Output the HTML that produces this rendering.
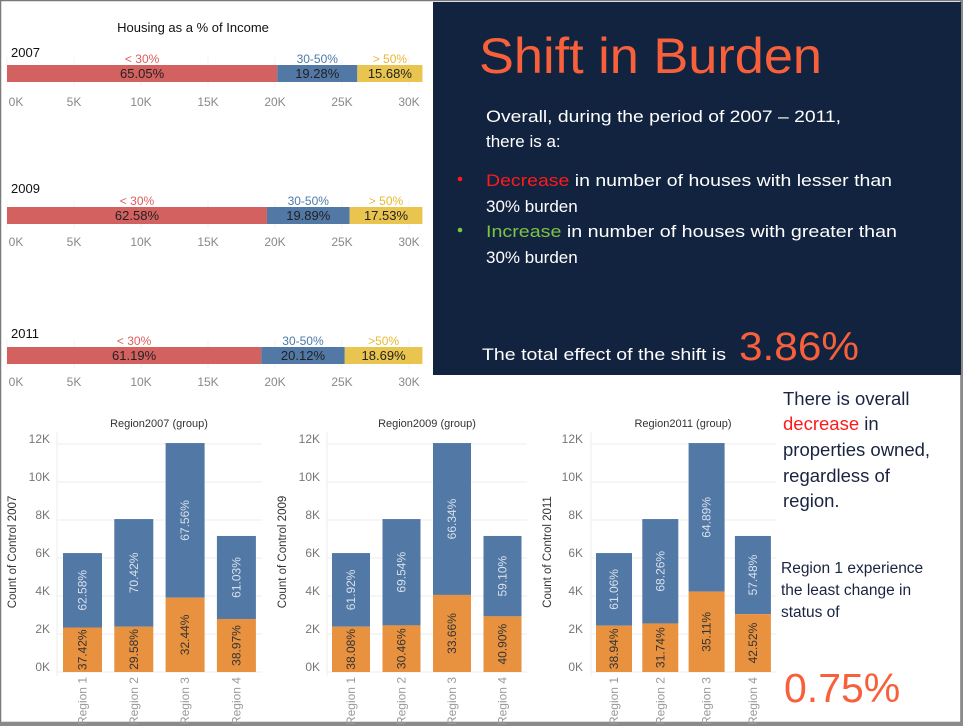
<!DOCTYPE html>
<html><head><meta charset="utf-8">
<style>
html,body{margin:0;padding:0;background:#fff;}
svg{display:block;font-family:"Liberation Sans",sans-serif;}
</style></head>
<body>
<svg id="s" width="963" height="726" viewBox="0 0 963 726" xmlns="http://www.w3.org/2000/svg">
<rect x="0" y="0" width="963" height="726" fill="#fff"/>
<rect x="0.5" y="0.5" width="960.5" height="722" fill="none" stroke="#7a7a7a" stroke-width="1.5"/>
<rect x="0" y="722" width="963" height="4" fill="#8a8a8a"/>
<rect x="961" y="0" width="2" height="726" fill="#8a8a8a"/>
<rect x="433" y="2" width="528" height="373" fill="#12233f"/>
<text x="479" y="73" font-size="50" fill="#f8603b" textLength="343" lengthAdjust="spacingAndGlyphs">Shift in Burden</text>
<g fill="#ffffff" font-size="17">
<text x="486" y="122" textLength="355" lengthAdjust="spacingAndGlyphs">Overall, during the period of 2007 – 2011,</text>
<text x="486" y="147">there is a:</text>
<text x="486" y="186" textLength="406" lengthAdjust="spacingAndGlyphs"><tspan fill="#ff1a1a">Decrease</tspan> in number of houses with lesser than</text>
<text x="486" y="212">30% burden</text>
<text x="486" y="237" textLength="411" lengthAdjust="spacingAndGlyphs"><tspan fill="#7cc443">Increase</tspan> in number of houses with greater than</text>
<text x="486" y="263">30% burden</text>
<text x="482" y="360" textLength="244" lengthAdjust="spacingAndGlyphs">The total effect of the shift is</text>
</g>
<circle cx="460" cy="179" r="2.3" fill="#ff1a1a"/>
<circle cx="460" cy="230" r="2.3" fill="#7cc443"/>
<text x="739" y="360" font-size="40" fill="#f8603b" textLength="120" lengthAdjust="spacingAndGlyphs">3.86%</text>
<g fill="#1a2440" font-size="18.5">
<text x="783" y="405">There is overall</text>
<text x="783" y="430"><tspan fill="#ff1a1a">decrease</tspan> in</text>
<text x="783" y="456">properties owned,</text>
<text x="783" y="482">regardless of</text>
<text x="783" y="507">region.</text>
</g>
<g fill="#1a2440" font-size="15.5">
<text x="781" y="573">Region 1 experience</text>
<text x="781" y="595">the least change in</text>
<text x="781" y="617">status of</text>
</g>
<text x="784" y="702" font-size="41" fill="#f8603b">0.75%</text>
<text x="193" y="32" font-size="13" fill="#111" text-anchor="middle">Housing as a % of Income</text>
<g id="hbars"></g>
<g id="vbars"></g>
</svg>
<script>
// Housing as % of income (stacked horizontal bars)
const years = ["2007", "2009", "2011"];
const burdenCats = ["< 30%", "30-50%", "> 50%"];
const burdenCats2011 = ["< 30%", "30-50%", ">50%"];
const pctLow = [65.05, 62.58, 61.19];
const pctMid = [19.28, 19.89, 20.12];
const pctHigh = [15.68, 17.53, 18.69];
const yearTotals = [31000, 31000, 31000];
const xTicks = [0, 5000, 10000, 15000, 20000, 25000, 30000];
const xTickLabels = ["0K", "5K", "10K", "15K", "20K", "25K", "30K"];

// Region charts
const regions = ["Region 1", "Region 2", "Region 3", "Region 4"];
const regionTotals = [6260, 8050, 12050, 7160];
const ownPct2007 = [37.42, 29.58, 32.44, 38.97];
const restPct2007 = [62.58, 70.42, 67.56, 61.03];
const ownPct2009 = [38.08, 30.46, 33.66, 40.90];
const restPct2009 = [61.92, 69.54, 66.34, 59.10];
const ownPct2011 = [38.94, 31.74, 35.11, 42.52];
const restPct2011 = [61.06, 68.26, 64.89, 57.48];
const yTicks = [0, 2000, 4000, 6000, 8000, 10000, 12000];
const yTickLabels = ["0K", "2K", "4K", "6K", "8K", "10K", "12K"];

const NS = "http://www.w3.org/2000/svg";
function mk(tag, attrs, parent, txt) {
  const e = document.createElementNS(NS, tag);
  for (const k in attrs) e.setAttribute(k, attrs[k]);
  if (txt !== undefined) e.textContent = txt;
  parent.appendChild(e);
  return e;
}
const H = document.getElementById("hbars");
const hx = v => 7 + v * (67 / 5000);
const hLayout = [{bar: 65, year: 57, axis: 106}, {bar: 207, year: 193, axis: 246}, {bar: 347, year: 338, axis: 386}];
const segCols = ["#d3615f", "#5278a5", "#e9c44f"];
const catCols = ["#e05c5c", "#4e79a7", "#e8b830"];
years.forEach((yr, i) => {
  const L = hLayout[i];
  const g = mk("g", {}, H);
  
  
  const yt = mk("text", {x: 11, y: L.year, "font-size": 13, fill: "#111"}, g, yr);
  
  
  xTicks.forEach((t, k) => {
    mk("line", {x1: hx(t), x2: hx(t), y1: L.bar - 8, y2: L.bar + 22, stroke: "#f3f3f3"}, g);
    const tl = mk("text", {x: hx(t) + (k === 0 ? 9 : 0), y: L.axis, "font-size": 12, fill: "#888", "text-anchor": "middle"}, g, xTickLabels[k]);
    
    
  });
  const pcts = [pctLow[i], pctMid[i], pctHigh[i]];
  const cats = i === 2 ? burdenCats2011 : burdenCats;
  let acc = 0;
  pcts.forEach((p, j) => {
    const v = yearTotals[i] * p / 100;
    const x0 = hx(acc), x1 = hx(acc + v);
    const r = mk("rect", {x: x0, y: L.bar, width: x1 - x0, height: 17, fill: segCols[j]}, g);
    
    
    const cx = (x0 + x1) / 2;
    const vt = mk("text", {x: cx, y: L.bar + 13, "font-size": 13, fill: "#222", "text-anchor": "middle"}, g, p.toFixed(2) + "%");
    
    
    const ct = mk("text", {x: cx, y: L.bar - 2, "font-size": 12, fill: catCols[j], "text-anchor": "middle"}, g, cats[j]);
    
    
    acc += v;
  });
});

const V = document.getElementById("vbars");
const vy = v => 672 - v * 19 / 1000;
const charts = [
  {title: "Region2007 (group)", ytitle: "Count of Control 2007", own: ownPct2007, rest: restPct2007, x0: 63, pitch: 51.3, w: 39, tickR: 50, gl: 57, gr: 262, tc: 159, yt: 16},
  {title: "Region2009 (group)", ytitle: "Count of Control 2009", own: ownPct2009, rest: restPct2009, x0: 332, pitch: 50.5, w: 38, tickR: 320, gl: 327, gr: 527, tc: 427, yt: 286},
  {title: "Region2011 (group)", ytitle: "Count of Control 2011", own: ownPct2011, rest: restPct2011, x0: 596, pitch: 46.3, w: 36, tickR: 583, gl: 591, gr: 776, tc: 683, yt: 551}
];
charts.forEach((c, ci) => {
  const g = mk("g", {}, V);
  
  
  const tt = mk("text", {x: c.tc, y: 427, "font-size": 11, fill: "#333", "text-anchor": "middle"}, g, c.title);
  
  
  const ya = mk("text", {x: c.yt, y: 552, "font-size": 11.5, fill: "#333", "text-anchor": "middle", transform: "rotate(-90 " + c.yt + " 552)"}, g, c.ytitle);
  
  
  yTicks.forEach((t, k) => {
    mk("line", {x1: c.gl, x2: c.gr, y1: vy(t), y2: vy(t), stroke: "#eeeeee"}, g);
    const tl = mk("text", {x: c.tickR, y: vy(t) - 1, "font-size": 12, fill: "#777", "text-anchor": "end"}, g, yTickLabels[k]);
    
    
  });
  mk("line", {x1: c.gl, x2: c.gl, y1: 432, y2: 676, stroke: "#eeeeee"}, g);
  regions.forEach((rg, i) => {
    const x = c.x0 + i * c.pitch;
    const tot = regionTotals[i];
    const own = tot * c.own[i] / 100;
    const rb = mk("rect", {x: x, y: vy(tot), width: c.w, height: vy(own) - vy(tot), fill: "#5278a5"}, g);
    
    
    const ro = mk("rect", {x: x, y: vy(own), width: c.w, height: vy(0) - vy(own), fill: "#e8913f"}, g);
    
    
    const cx = x + c.w / 2 + 4;
    const by = (vy(tot) + vy(own)) / 2;
    const bt = mk("text", {x: cx, y: by, "font-size": 12, fill: "#d8e0ec", "text-anchor": "middle", transform: "rotate(-90 " + cx + " " + by + ")"}, g, c.rest[i].toFixed(2) + "%");
    
    
    const oy = (vy(own) + vy(0)) / 2;
    const ot = mk("text", {x: cx, y: oy, "font-size": 12, fill: "#333", "text-anchor": "middle", transform: "rotate(-90 " + cx + " " + oy + ")"}, g, c.own[i].toFixed(2) + "%");
    
    
    const rl = mk("text", {x: cx, y: 677, "font-size": 12, fill: "#9a9a9a", "text-anchor": "end", transform: "rotate(-90 " + cx + " 677)"}, g, rg);
    
    
  });
});
</script>
</body></html>
